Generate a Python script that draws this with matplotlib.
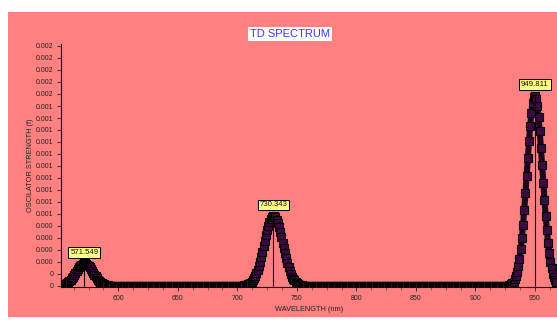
import matplotlib
matplotlib.use("Agg")
import matplotlib.pyplot as plt
import numpy as np
from matplotlib.patches import Rectangle
from matplotlib.ticker import FixedLocator, FixedFormatter, MultipleLocator

plt.rcParams['font.family'] = ['Liberation Sans', 'DejaVu Sans']

# wavelength grid of the spectrum (nm), 1 nm steps
wl_start, wl_stop = 552, 968

# broadened strength, in units of 1e-4, zero elsewhere
band1_start = 552
band1 = [0.05, 0.07, 0.10, 0.14, 0.19, 0.25, 0.32, 0.41, 0.52, 0.65,
         0.79, 0.94, 1.10, 1.26, 1.41, 1.55, 1.68, 1.78, 1.86, 1.89,
         1.90, 1.86, 1.79, 1.70, 1.57, 1.43, 1.28, 1.12, 0.95, 0.80,
         0.67, 0.54, 0.42, 0.33, 0.25, 0.19, 0.14, 0.10, 0.07, 0.05, 0.03]
band2_start = 705
band2 = [0.03, 0.05, 0.07, 0.10, 0.14, 0.20, 0.28, 0.37, 0.49, 0.66,
         0.85, 1.08, 1.36, 1.67, 2.03, 2.43, 2.86, 3.31, 3.76, 4.21,
         4.64, 5.02, 5.35, 5.61, 5.78, 5.85, 5.84, 5.73, 5.53, 5.25,
         4.90, 4.50, 4.08, 3.62, 3.16, 2.73, 2.31, 1.92, 1.57, 1.26,
         1.01, 0.78, 0.60, 0.46, 0.33, 0.25, 0.18, 0.12, 0.09, 0.06, 0.04]
band3_start = 924
band3 = [0.01, 0.01, 0.02, 0.03, 0.06, 0.09, 0.15, 0.24, 0.37, 0.56,
         0.82, 1.18, 1.66, 2.28, 3.05, 3.98, 5.08, 6.34, 7.71, 9.17,
         10.64, 12.07, 13.37, 14.45, 15.27, 15.75, 15.86, 15.61, 15.00, 14.07,
         12.89, 11.54, 10.09, 8.61, 7.18, 5.84, 4.65, 3.61, 2.73, 2.03,
         1.47, 1.03, 0.71, 0.48, 0.32]

# stick transitions
peak_wl = [571.549, 730.343, 949.811]
peak_f = [1.90, 5.85, 15.87]
peak_labels = ["571.549", "730.343", "949.811"]

# y axis ticks as printed on the chart
y_ticks = list(range(0, 21))
y_tick_labels = ["0", "0", "0.000", "0.000", "0.000", "0.000",
                 "0.001", "0.001", "0.001", "0.001", "0.001", "0.001",
                 "0.001", "0.001", "0.001", "0.001",
                 "0.002", "0.002", "0.002", "0.002", "0.002"]
x_ticks = [600, 650, 700, 750, 800, 850, 900, 950]

scale = 1e-4
wl = np.arange(wl_start, wl_stop + 1)
f = np.zeros(len(wl))
for start, vals in [(band1_start, band1), (band2_start, band2), (band3_start, band3)]:
    i = start - wl_start
    f[i:i + len(vals)] = vals
f = f * scale

pink = '#ff8080'
fig = plt.figure(figsize=(5.57, 3.2), dpi=100)
fig.patch.set_facecolor('white')
fig.patches.append(Rectangle((8 / 557, 3 / 320), 1 - 8 / 557, 1 - 15 / 320,
                             transform=fig.transFigure, facecolor=pink,
                             edgecolor='none', zorder=-10))

ax = fig.add_axes([61 / 557, 33 / 320, 1 - 61 / 557, 243 / 320])
ax.set_zorder(5)
ax.set_facecolor(pink)

ax.plot(wl, f, color='#1e061e', lw=4.4, zorder=2, solid_joinstyle='round')
ax.plot(wl, f, ls='none', marker='s', ms=5.8, mfc='#3c0a40', mec='black',
        mew=0.8, zorder=3)
ax.vlines(peak_wl, 0, np.array(peak_f) * scale, color='black', lw=0.8, zorder=4)

for x, y, lab in zip(peak_wl, peak_f, peak_labels):
    ax.annotate(lab, xy=(x, y * scale), xytext=(0, 7.8), textcoords='offset points',
                ha='center', va='center', fontsize=5.6, color='#111111', zorder=5,
                bbox=dict(boxstyle='square,pad=0.25', fc='#ffff80', ec='black', lw=0.7))

ax.set_xlim(551.9, 968.5)
ax.set_ylim(-1 / 12 * scale, 242 / 12 * scale)

ax.yaxis.set_major_locator(FixedLocator([t * scale for t in y_ticks]))
ax.yaxis.set_major_formatter(FixedFormatter(y_tick_labels))
ax.xaxis.set_major_locator(FixedLocator(x_ticks))
ax.xaxis.set_minor_locator(MultipleLocator(12.5))

for s in ['top', 'right']:
    ax.spines[s].set_visible(False)
for s in ['left', 'bottom']:
    ax.spines[s].set_linewidth(0.8)
ax.tick_params(axis='both', which='major', labelsize=5, colors='#222222',
               length=3, width=0.6, pad=2.5)
ax.tick_params(axis='x', which='minor', length=2, width=0.5, colors='#444444')

ax.set_xlabel("WAVELENGTH (nm)", fontsize=5.3, color='#222222', labelpad=3)
ax.set_ylabel("OSCILATOR STRENGTH (f)", fontsize=5.3, color='#222222', labelpad=1.5)

fig.text(290 / 557, 1 - 34 / 320, "TD SPECTRUM", ha='center', va='center',
         fontsize=8, color='#3a3aff', zorder=6,
         bbox=dict(boxstyle='square,pad=0.15', fc='white', ec='none'))

fig.savefig('out.png', dpi=100, facecolor=fig.get_facecolor())
